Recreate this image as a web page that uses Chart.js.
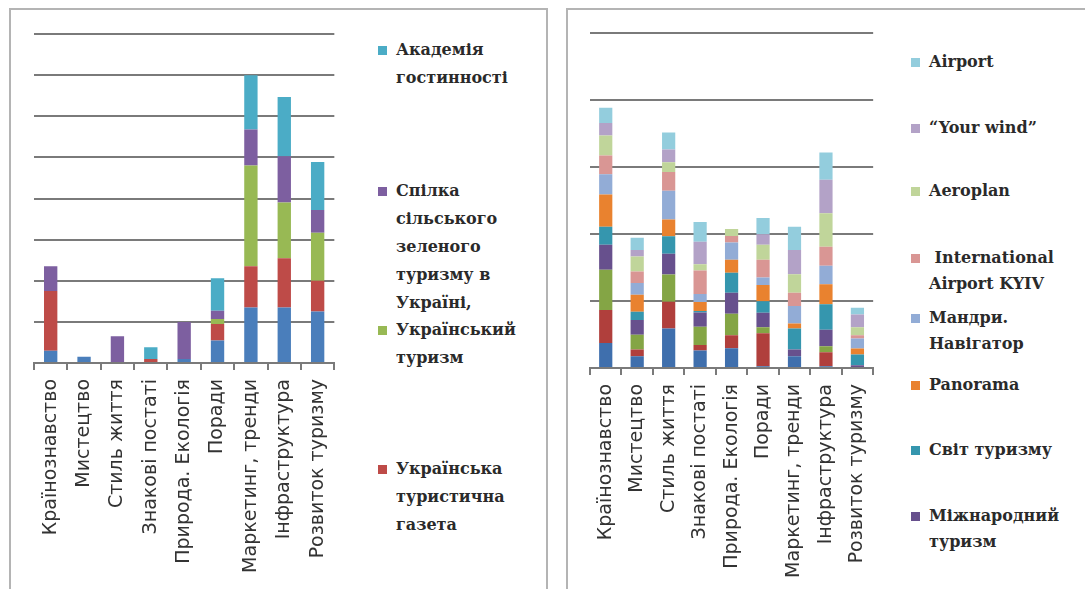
<!DOCTYPE html>
<html>
<head>
<meta charset="utf-8">
<title>Тематика публікацій</title>
<script src="https://cdn.jsdelivr.net/npm/chart.js@4"></script>
<style>
    body { margin: 0; background: #fff; width: 1085px; height: 589px; overflow: hidden; position: relative; }
    .panel { position: absolute; border: 2px solid #b4b4b4; border-bottom: none; }
    canvas { position: absolute; top: 0; }
    .legend { position: absolute; top: 0; font-family: "DejaVu Serif", serif; font-size: 16px; font-weight: bold; color: #2a2a2a; }
    .legend .item { position: absolute; left: 0; white-space: nowrap; }
    .legend .box { position: absolute; left: 0; width: 9px; height: 9px; }
    .legend .txt { position: absolute; left: 18px; top: 0; }
</style>
</head>
<body>

<div class="panel" style="left:9px; top:8px; width:535px; height:600px;"></div>
<div class="panel" style="left:566px; top:8px; width:600px; height:600px;"></div>

<canvas id="leftChart" width="350" height="589" style="left:0;"></canvas>
<canvas id="rightChart" width="320" height="589" style="left:570px;"></canvas>

<div class="legend" id="leftLegend" style="left:378px; line-height:28px;"></div>
<div class="legend" id="rightLegend" style="left:911px; line-height:26px;"></div>

<script>
    // Рубрики (спільні для обох діаграм)
    const categories = ["Країнознавство", "Мистецтво", "Стиль життя", "Знакові постаті",
        "Природа. Екологія", "Поради", "Маркетинг, тренди", "Інфраструктура", "Розвиток туризму"];

    // Ліва діаграма — українські видання (знизу вгору)
    const leftBlue   = [3, 1.5, 0, 0, 1, 5.5, 13.5, 13.5, 12.5];
    const leftRed    = [14.5, 0, 0, 1, 0, 4, 10, 12, 7.5];
    const leftGreen  = [0, 0, 0, 0, 0, 1.2, 24.5, 13.5, 11.7];
    const leftPurple = [6, 0, 6.5, 0, 9, 2, 8.8, 11.3, 5.5];
    const leftCyan   = [0, 0, 0, 2.8, 0, 7.9, 13.2, 14.4, 11.7];
    const leftMax = 80;

    // Права діаграма — журнали (знизу вгору)
    const rightBlue        = [3.75, 1.75, 5.9, 2.6, 2.95, 0.25, 1.75, 0.25, 0];
    const rightRed         = [4.9, 1, 4, 0.85, 1.95, 4.95, 0, 2.1, 0];
    const rightGreen       = [6, 2.2, 4.05, 2.7, 3.2, 0.9, 0, 0.9, 0];
    const mizhnarodnyi     = [3.75, 2.2, 3.1, 2.15, 3.15, 2.15, 1, 2.45, 0.4];
    const svitTuryzmu      = [2.7, 1.25, 2.6, 0.2, 2.95, 1.7, 3.15, 3.8, 1.6];
    const panorama         = [4.8, 2.55, 2.5, 1.35, 1.95, 2.45, 0.75, 3, 0.9];
    const mandry           = [3, 1.75, 4.3, 1.2, 2.6, 1.1, 2.6, 2.75, 1.5];
    const intAirportKyiv   = [2.8, 1.7, 2.8, 3.5, 0.95, 2.65, 2, 2.85, 0.5];
    const aeroplan         = [3, 2.25, 1.45, 0.95, 1.05, 2.25, 2.75, 5, 1.2];
    const yourWind         = [1.85, 0.95, 1.9, 3.35, 0, 1.55, 3.6, 5, 1.9];
    const airport          = [2.3, 1.85, 2.55, 2.95, 0, 2.45, 3.5, 4.05, 1];
    const rightMax = 50;

    const leftSeries = [
        { label: "", data: leftBlue, color: "#4a7ebb" },
        { label: "Українська туристична газета", data: leftRed, color: "#be4b48" },
        { label: "Український туризм", data: leftGreen, color: "#98b954" },
        { label: "Спілка сільського зеленого туризму в Україні,", data: leftPurple, color: "#7d5fa0" },
        { label: "Академія гостинності", data: leftCyan, color: "#4bacc6" }
    ];

    const rightSeries = [
        { label: "", data: rightBlue, color: "#3f6fad" },
        { label: "", data: rightRed, color: "#b03f3c" },
        { label: "", data: rightGreen, color: "#84a545" },
        { label: "Міжнародний туризм", data: mizhnarodnyi, color: "#67508d" },
        { label: "Світ туризму", data: svitTuryzmu, color: "#3596ae" },
        { label: "Panorama", data: panorama, color: "#e9822f" },
        { label: "Мандри. Навігатор", data: mandry, color: "#92acd6" },
        { label: "International Airport KYIV", data: intAirportKyiv, color: "#d99694" },
        { label: "Aeroplan", data: aeroplan, color: "#c0d59a" },
        { label: "\u201CYour wind\u201D", data: yourWind, color: "#b3a2c7" },
        { label: "Airport", data: airport, color: "#93cddd" }
    ];

    function makeChart(id, series, yMax, pad, axisHeight, barPct) {
        return new Chart(document.getElementById(id), {
            type: "bar",
            data: {
                labels: categories,
                datasets: series.map(s => ({
                    label: s.label,
                    data: s.data,
                    backgroundColor: s.color,
                    borderWidth: 0,
                    categoryPercentage: 1,
                    barPercentage: barPct
                }))
            },
            options: {
                responsive: false,
                animation: false,
                layout: { padding: pad },
                plugins: { legend: { display: false }, tooltip: { enabled: false } },
                scales: {
                    x: {
                        stacked: true,
                        afterFit: axis => { axis.height = axisHeight; },
                        grid: { drawOnChartArea: false, drawTicks: true, tickLength: 7, color: "#7a7a7a", lineWidth: 2 },
                        border: { display: true, color: "#7a7a7a", width: 2 },
                        ticks: {
                            autoSkip: false, minRotation: 90, maxRotation: 90, padding: 9,
                            color: "#333",
                            font: { family: "DejaVu Sans", size: 19 }
                        }
                    },
                    y: {
                        stacked: true,
                        min: 0,
                        max: yMax,
                        afterFit: axis => { axis.width = 0; },
                        ticks: { display: false, stepSize: 10 },
                        grid: { color: "#7a7a7a", lineWidth: 2, drawTicks: false },
                        border: { display: false }
                    }
                }
            }
        });
    }

    makeChart("leftChart", leftSeries, leftMax, { left: 34, right: 10, top: 34, bottom: 0 }, 226, 0.4);
    makeChart("rightChart", rightSeries, rightMax, { left: 20, right: 14, top: 33, bottom: 0 }, 221, 0.42);

    // Легенди: позиції рядків (верх першого рядка), текст з розривами
    function buildLegend(id, items, lineH) {
        const box = document.getElementById(id);
        items.forEach(it => {
            const el = document.createElement("div");
            el.className = "item";
            el.style.top = it.top + "px";
            const sq = document.createElement("div");
            sq.className = "box";
            sq.style.background = it.color;
            sq.style.top = (lineH / 2 - 4) + "px";
            const tx = document.createElement("div");
            tx.className = "txt";
            tx.innerHTML = it.lines.join("<br>");
            el.appendChild(sq);
            el.appendChild(tx);
            box.appendChild(el);
        });
    }

    buildLegend("leftLegend", [
        { top: 36, color: "#4bacc6", lines: ["Академія", "гостинності"] },
        { top: 177, color: "#7d5fa0", lines: ["Спілка", "сільського", "зеленого", "туризму в", "Україні,"] },
        { top: 316, color: "#98b954", lines: ["Український", "туризм"] },
        { top: 455, color: "#be4b48", lines: ["Українська", "туристична", "газета"] }
    ], 28);

    buildLegend("rightLegend", [
        { top: 49, color: "#93cddd", lines: ["Airport"] },
        { top: 115, color: "#b3a2c7", lines: ["\u201CYour wind\u201D"] },
        { top: 178, color: "#c0d59a", lines: ["Aeroplan"] },
        { top: 245, color: "#d99694", lines: ["&nbsp;International", "Airport KYIV"] },
        { top: 305, color: "#92acd6", lines: ["Мандри.", "Навігатор"] },
        { top: 372, color: "#e9822f", lines: ["Panorama"] },
        { top: 437, color: "#3596ae", lines: ["Світ туризму"] },
        { top: 503, color: "#67508d", lines: ["Міжнародний", "туризм"] }
    ], 26);
</script>
</body>
</html>
